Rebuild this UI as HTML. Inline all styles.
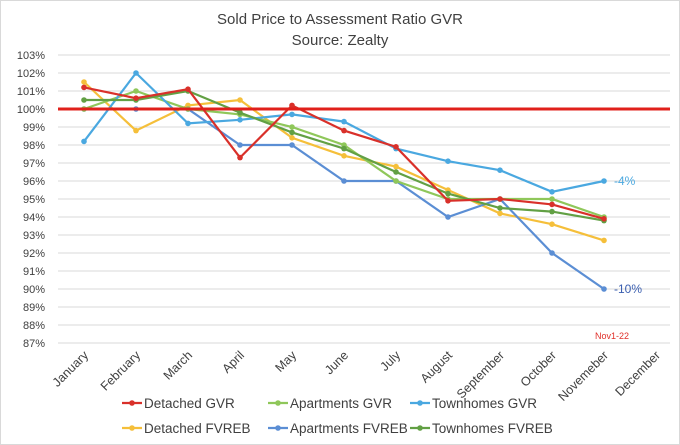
<!DOCTYPE html>
<html><head><meta charset="utf-8"><style>
body{margin:0;background:#fff;}
svg{display:block;font-family:"Liberation Sans",sans-serif;}
</style></head><body>
<svg id="c" width="680" height="445">
<rect x="0.5" y="0.5" width="679" height="444" fill="#fff" stroke="#d9d9d9"/>
<text x="340" y="24" text-anchor="middle" font-size="15" fill="#404040">Sold Price to Assessment Ratio GVR</text>
<text x="340" y="45" text-anchor="middle" font-size="15" fill="#404040">Source: Zealty</text>
<g id="grid"></g><g id="lines"></g><g id="xl"></g><g id="leg"></g>
<text x="612" y="339" text-anchor="middle" font-size="9" fill="#e0302a">Nov1-22</text>
</svg>
<script>
const months=["January","February","March","April","May","June","July","August","September","October","Novemeber","December"];
const yTicks=[87,88,89,90,91,92,93,94,95,96,97,98,99,100,101,102,103];
const seriesNames=["Detached GVR","Apartments GVR","Townhomes GVR","Detached FVREB","Apartments FVREB","Townhomes FVREB"];
const seriesColors=["#d9302a","#8fc75a","#4aa8e0","#f5bf3a","#5b8ed4","#62a044"];
const detachedGVR=[101.2,100.6,101.1,97.3,100.2,98.8,97.9,94.9,95.0,94.7,93.9];
const apartmentsGVR=[100.0,101.0,100.0,99.7,99.0,98.0,96.0,95.0,95.0,95.0,94.0];
const townhomesGVR=[98.2,102.0,99.2,99.4,99.7,99.3,97.8,97.1,96.6,95.4,96.0];
const detachedFVREB=[101.5,98.8,100.2,100.5,98.4,97.4,96.8,95.5,94.2,93.6,92.7];
const apartmentsFVREB=[100.0,100.0,100.0,98.0,98.0,96.0,96.0,94.0,95.0,92.0,90.0];
const townhomesFVREB=[100.5,100.5,101.0,99.8,98.7,97.8,96.5,95.3,94.5,94.3,93.8];
const refLine=100;
const endLabels=["-4%","-10%"];
const NS="http://www.w3.org/2000/svg";
const X=i=>84+i*52, Y=v=>109+(100-v)*18;
function mk(t,a,p){const e=document.createElementNS(NS,t);for(const k in a)e.setAttribute(k,a[k]);p.appendChild(e);return e;}
const grid=document.getElementById('grid');
yTicks.forEach(v=>{
 const l=mk('line',{x1:58,x2:670,y1:Y(v),y2:Y(v),stroke:'#d9d9d9','stroke-width':1},grid);
 
 
 const t=mk('text',{x:45,y:Y(v)+4,'text-anchor':'end','font-size':11,fill:'#404040'},grid);
 t.textContent=v+'%';
 
 
});
const xl=document.getElementById('xl');
months.forEach((m,i)=>{
 const t=mk('text',{x:X(i)+5,y:356,'text-anchor':'end','font-size':12.5,fill:'#404040',transform:`rotate(-45 ${X(i)+5} 356)`},xl);
 t.textContent=m;
 
 
});
const lines=document.getElementById('lines');
const data=[detachedGVR,apartmentsGVR,townhomesGVR,detachedFVREB,apartmentsFVREB,townhomesFVREB];
const order=[3,4,1,2,5,0];
order.forEach(s=>{
 const g=mk('g',{},lines);
 
 
 const pts=data[s].map((v,i)=>X(i)+','+Y(v)).join(' ');
 mk('polyline',{points:pts,fill:'none',stroke:seriesColors[s],'stroke-width':2.2},g);
 data[s].forEach((v,i)=>{
  const c=mk('circle',{cx:X(i),cy:Y(v),r:2.8,fill:seriesColors[s]},g);
  
  
 });
});
const rl=mk('line',{x1:58,x2:670,y1:Y(refLine),y2:Y(refLine),stroke:'#e0201b','stroke-width':3},lines);


const e1=mk('text',{x:X(10)+10,y:Y(townhomesGVR[10])+4,'font-size':12,fill:'#4aa8e0'},lines);
e1.textContent=endLabels[0];


const e2=mk('text',{x:X(10)+10,y:Y(apartmentsFVREB[10])+4,'font-size':12,fill:'#3b5fb0'},lines);
e2.textContent=endLabels[1];


const leg=document.getElementById('leg');
const lx=[122,268,410];
seriesNames.forEach((n,s)=>{
 const x=lx[s%3], y=s<3?403:428;
 const g=mk('g',{},leg);
 
 
 mk('line',{x1:x,x2:x+20,y1:y,y2:y,stroke:seriesColors[s],'stroke-width':2.2},g);
 mk('circle',{cx:x+10,cy:y,r:2.8,fill:seriesColors[s]},g);
 const t=mk('text',{x:x+22,y:y+5,'font-size':13.5,fill:'#404040'},g);
 t.textContent=n;
});
</script>
</body></html>
